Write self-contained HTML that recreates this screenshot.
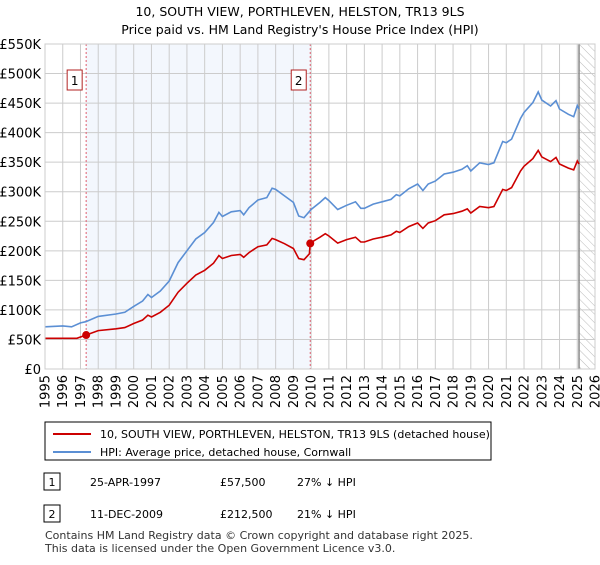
<!DOCTYPE html>
<html><head><meta charset="utf-8"><style>
body{margin:0;background:#fff;font-family:"Liberation Sans","DejaVu Sans",sans-serif;}
svg text{font-family:"DejaVu Sans","Liberation Sans",sans-serif;}
</style></head><body>
<svg id="c" width="600" height="560" xmlns="http://www.w3.org/2000/svg">
<defs><pattern id="hatch" width="6" height="6" patternUnits="userSpaceOnUse" patternTransform="rotate(-45)"><line x1="0" y1="0" x2="0" y2="6" stroke="#bbb" stroke-width="1"/></pattern></defs>
<text x="300" y="16" text-anchor="middle" font-size="12.5">10, SOUTH VIEW, PORTHLEVEN, HELSTON, TR13 9LS</text>
<text x="300" y="34" text-anchor="middle" font-size="12.5">Price paid vs. HM Land Registry's House Price Index (HPI)</text>
<g id="plot"></g>
<g id="legend">
<rect x="45" y="422" width="446" height="38" fill="#fff" stroke="#000" stroke-width="1"/>
<line x1="53" y1="434" x2="91" y2="434" stroke="#cc0000" stroke-width="2"/>
<text x="100" y="438" font-size="11">10, SOUTH VIEW, PORTHLEVEN, HELSTON, TR13 9LS (detached house)</text>
<line x1="53" y1="452" x2="91" y2="452" stroke="#5b8fd4" stroke-width="2"/>
<text x="100" y="456" font-size="11">HPI: Average price, detached house, Cornwall</text>
</g>
<g>
<rect x="44" y="473" width="16" height="17" fill="#fff" stroke="#000"/><text x="52" y="486" font-size="11" text-anchor="middle">1</text>
<text x="90" y="486" font-size="11">25-APR-1997</text><text x="220" y="486" font-size="11">£57,500</text><text x="297" y="486" font-size="11">27% ↓ HPI</text></g>
<g>
<rect x="44" y="505" width="16" height="17" fill="#fff" stroke="#000"/><text x="52" y="518" font-size="11" text-anchor="middle">2</text>
<text x="90" y="518" font-size="11">11-DEC-2009</text><text x="220" y="518" font-size="11">£212,500</text><text x="297" y="518" font-size="11">21% ↓ HPI</text></g>
<text x="45" y="539" font-size="11" fill="#333">Contains HM Land Registry data © Crown copyright and database right 2025.</text>
<text x="45" y="552" font-size="11" fill="#333">This data is licensed under the Open Government Licence v3.0.</text>
</svg>
<script>
const hpiYears=[1995,1996,1996.5,1997,1997.3,1998,1999,1999.5,2000,2000.5,2000.8,2001,2001.5,2002,2002.5,2003,2003.5,2004,2004.5,2004.8,2005,2005.5,2006,2006.2,2006.5,2007,2007.5,2007.8,2008,2008.5,2009,2009.3,2009.6,2010,2010.5,2010.8,2011,2011.5,2012,2012.5,2012.8,2013,2013.5,2014,2014.5,2014.8,2015,2015.5,2016,2016.3,2016.6,2017,2017.5,2018,2018.5,2018.8,2019,2019.5,2020,2020.3,2020.8,2021,2021.3,2021.8,2022,2022.5,2022.8,2023,2023.5,2023.8,2024,2024.5,2024.8,2025,2025.1];
const hpiValues=[71.5,73,71.5,78,80,89,93,96,106,115,126,121,132,149,180,200,220,231,248,265,258,266,268,261,273,286,290,306,304,293,282,259,256,270,282,290,285,270,277,283,272,272,279,283,287,295,293,305,313,302,313,318,330,333,338,344,335,349,346,349,385,383,389,424,434,451,469,455,445,454,440,431,427,446,440];
const priceYears=[1995,1996,1996.8,1997.32,1998,1999,1999.5,2000,2000.5,2000.8,2001,2001.5,2002,2002.5,2003,2003.5,2004,2004.5,2004.8,2005,2005.5,2006,2006.2,2006.5,2007,2007.5,2007.8,2008,2008.5,2009,2009.3,2009.6,2009.9,2009.95,2010,2010.5,2010.8,2011,2011.5,2012,2012.5,2012.8,2013,2013.5,2014,2014.5,2014.8,2015,2015.5,2016,2016.3,2016.6,2017,2017.5,2018,2018.5,2018.8,2019,2019.5,2020,2020.3,2020.8,2021,2021.3,2021.8,2022,2022.5,2022.8,2023,2023.5,2023.8,2024,2024.5,2024.8,2025,2025.1];
const priceValues=[52,52,52,57.5,65,68,70,77,83,91,88,96,108,130,145,159,167,179,192,187,192,194,189,197,207,210,221,219,212,204,187,185,195,212.5,214,223,229,225,213,219,223,215,215,220,223,227,233,231,241,247,238,247,251,261,263,267,271,264,275,273,275,304,302,307,335,343,356,370,359,351,358,347,340,337,352,347];
const sales=[[1997.32,57.5,"1"],[2009.95,212.5,"2"]];
const yTicks=[0,50,100,150,200,250,300,350,400,450,500,550];
const yLabels=["£0","£50K","£100K","£150K","£200K","£250K","£300K","£350K","£400K","£450K","£500K","£550K"];
const xTicks=[1995,1996,1997,1998,1999,2000,2001,2002,2003,2004,2005,2006,2007,2008,2009,2010,2011,2012,2013,2014,2015,2016,2017,2018,2019,2020,2021,2022,2023,2024,2025,2026];
const X0=45,X1=595,Y0=369,Y1=44;
const xs=y=>X0+(y-1995)/31*(X1-X0);
const ys=v=>Y0-v/550*(Y0-Y1);
const NS="http://www.w3.org/2000/svg",g=document.getElementById('plot');
function mk(t,a){const e=document.createElementNS(NS,t);for(const k in a)e.setAttribute(k,a[k]);g.appendChild(e);return e;}
let e;
e=mk('rect',{x:xs(1997.32),y:Y1,width:xs(2009.95)-xs(1997.32),height:Y0-Y1,fill:'#eef3fc',opacity:0.7});


e=mk('rect',{x:xs(2025.1),y:Y1,width:X1-xs(2025.1),height:Y0-Y1,fill:'url(#hatch)'});


yTicks.forEach((v,i)=>{
 e=mk('line',{x1:X0,x2:X1,y1:ys(v),y2:ys(v),stroke:'#cccccc','stroke-width':1});
 
 
 e=mk('text',{x:X0-4,y:ys(v)+5,'text-anchor':'end','font-size':13});e.textContent=yLabels[i];
 
 
});
xTicks.forEach(y=>{
 e=mk('line',{x1:xs(y),x2:xs(y),y1:Y1,y2:Y0,stroke:'#cccccc','stroke-width':1});
 
 
 const tx=xs(y)+4.5,ty=Y0+6;
 e=mk('text',{x:tx,y:ty,'text-anchor':'end','font-size':13,transform:'rotate(-90 '+tx+' '+ty+')'});e.textContent=y;
 
 
});
e=mk('line',{x1:xs(2025.1),x2:xs(2025.1),y1:Y1,y2:Y0,stroke:'#888','stroke-width':1.5});


sales.forEach(s=>{
 e=mk('line',{x1:xs(s[0]),x2:xs(s[0]),y1:Y1,y2:Y0,stroke:'#e06070','stroke-width':1,'stroke-dasharray':'2,2'});
 
 
});
function path(xa,va,col,name){
 let d=xa.map((x,i)=>(i?'L':'M')+xs(x).toFixed(1)+','+ys(va[i]).toFixed(1)).join('');
 e=mk('path',{d:d,fill:'none',stroke:col,'stroke-width':1.6});
 
 
}
path(hpiYears,hpiValues,'#5b8fd4','hpi-line');
path(priceYears,priceValues,'#cc0000','price-paid-line');
sales.forEach(s=>{
 e=mk('circle',{cx:xs(s[0]),cy:ys(s[1]),r:4,fill:'#cc0000'});
 
 
 const bx=xs(s[0])-19;
 e=mk('rect',{x:bx,y:70,width:15,height:20,fill:'#fff',stroke:'#b22222'});
 
 
 e=mk('text',{x:bx+7.5,y:85,'text-anchor':'middle','font-size':12});e.textContent=s[2];
 
 
});
e=mk('rect',{x:X0,y:Y1,width:X1-X0,height:Y0-Y1,fill:'none',stroke:'#cccccc'});


</script>
</body></html>
